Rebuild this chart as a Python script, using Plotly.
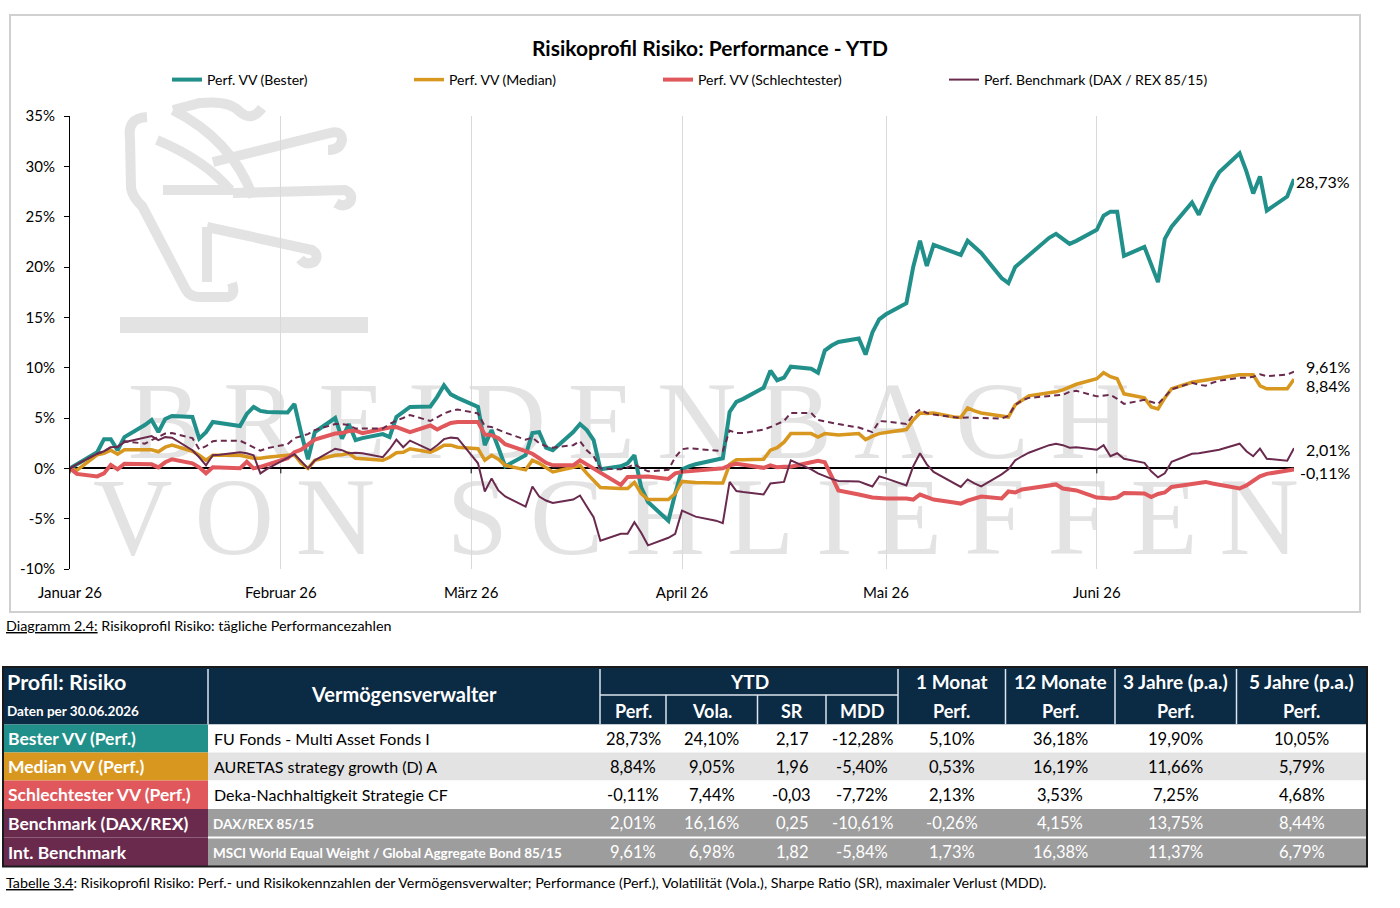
import plotly.graph_objects as go
import pandas as pd

W, H = 1400, 908

# ---------------- data ----------------
dates = pd.bdate_range("2026-01-01", "2026-06-30")
month_starts = pd.date_range("2026-01-01", "2026-06-01", freq="MS")
month_labels = ["Januar 26", "Februar 26", "März 26", "April 26", "Mai 26", "Juni 26"]

best = [
    0.0, 0.4, 1.6, 2.9, 2.9, 1.8, 3.1, 4.3, 4.8, 3.6, 4.9, 5.2, 5.1, 2.95, 3.6, 4.6, 4.5, 4.2, 5.4, 6.1, 5.7, 5.6,
    5.55, 6.4, 3.5, 0.9, 3.6, 5.0, 2.95, 4.4, 2.8, 3.0, 3.4, 3.1, 5.1, 5.6, 6.1, 6.15, 7.1, 8.25, 7.35, 7.0,
    6.1, 2.3, 3.8, 2.05, 0.2, 1.3, 3.5, 3.6, 2.05, 1.8, 3.6, 4.4, 3.8, 2.8, -0.1, 0.2, 0.5, 1.3, -1.9, -3.35, -5.2, -2.5,
    -0.1, 0.2, 0.4, 0.85, 1.0, 5.6, 6.6, 6.9, 8.0, 9.7, 8.75, 9.0, 10.1, 9.9, 9.5, 11.7, 12.2, 12.55, 12.9, 11.3, 13.5, 14.8,
    15.3, 16.4, 20.0, 22.6, 20.1, 22.2, 21.4, 21.2, 22.6, 22.0, 21.4, 18.9, 18.4, 20.0, 20.6, 21.2, 22.9, 23.3, 22.8, 22.3, 22.6,
    23.7, 25.1, 25.5, 25.5, 21.1, 22.0, 20.3, 18.5, 22.8, 24.0, 26.4, 25.2, 26.7, 28.2, 29.4, 31.3, 29.5, 27.3, 29.0, 25.6, 27.0, 28.73,
]
median = [
    0.0, -0.2, 1.35, 1.5, 1.8, 1.4, 1.85, 1.85, 1.85, 1.65, 2.1, 2.3, 1.7, 1.3, 0.8, 1.3, 1.3, 1.3, 1.15, 1.0, 1.0, 1.1,
    1.3, 1.35, 0.5, 0.0, 0.8, 1.3, 1.35, 1.5, 1.0, 0.95, 0.8, 1.1, 1.55, 1.6, 1.95, 1.6, 1.9, 2.3, 2.3, 2.1,
    1.95, 0.8, 1.3, 0.9, 0.3, -0.15, 0.8, 0.5, 0.1, -0.35, 0.1, 0.3, -0.5, -1.2, -1.9, -2.0, -2.0, -1.4, -2.5, -3.1, -3.1, -2.5,
    -1.3, -1.35, -1.4, -1.45, -1.45, 0.4, 0.85, 0.85, 0.9, 1.8, 2.05, 2.6, 3.45, 3.45, 3.1, 3.45, 3.35, 3.3, 3.45, 2.85, 3.2, 3.45,
    3.55, 3.85, 4.8, 5.5, 5.45, 5.5, 5.1, 5.05, 6.0, 5.7, 5.5, 5.2, 5.1, 6.3, 6.8, 7.2, 7.5, 7.6, 7.8, 8.1, 8.35,
    8.9, 9.5, 9.1, 8.9, 7.4, 7.0, 6.1, 5.9, 7.0, 7.9, 8.55, 8.65, 8.8, 8.9, 9.0, 9.3, 9.3, 9.3, 8.2, 7.9, 7.9, 8.84,
]
worst = [
    0.0, -0.55, -0.8, -0.5, 0.35, -0.1, 0.45, 0.45, 0.4, 0.1, 0.6, 0.9, 0.5, 0.1, -0.5, 0.1, 0.05, 0.0, 0.65, 0.0, 0.15, 0.35,
    1.0, 1.6, 1.85, 2.35, 2.85, 3.45, 3.5, 3.7, 3.75, 3.5, 3.95, 4.05, 4.1, 3.85, 3.6, 4.25, 3.85, 4.2, 4.5, 4.6,
    4.6, 3.35, 3.3, 3.0, 2.4, 1.7, 1.45, 1.0, 0.55, 0.3, 0.3, 0.8, 0.4, -0.1, -0.5, -1.65, -0.85, -0.8, -0.8, -0.8, -1.05, -0.5,
    -0.35, -0.3, -0.25, -0.05, 0.0, 0.3, 0.45, 0.35, 0.05, 0.3, 0.1, 0.15, 0.15, 0.6, 0.75, 0.6, -0.85, -2.2, -2.6, -2.8, -2.9, -2.95,
    -3.0, -3.0, -3.1, -2.6, -2.9, -3.1, -3.4, -3.5, -3.2, -2.95, -2.8, -3.0, -2.3, -2.4, -2.1, -2.0, -1.7, -1.6, -2.0, -2.1, -2.2,
    -2.9, -2.95, -3.0, -2.9, -2.45, -2.5, -2.85, -2.55, -2.4, -1.85, -1.6, -1.45, -1.35, -1.5, -1.65, -2.0, -1.7, -1.3, -0.8, -0.55, -0.2, -0.11,
]
bench = [
    0.0, 0.4, 1.45, 1.7, 2.1, 2.15, 2.6, 3.1, 3.2, 2.8, 3.1, 3.05, 1.8, 1.1, 0.3, 1.3, 1.35, 1.6, 1.5, 1.3, -0.5, -0.05,
    1.0, 1.4, 0.7, 0.0, 0.8, 1.95, 1.8, 1.5, 1.55, 1.5, 1.1, 1.9, 2.85, 2.1, 2.75, 1.8, 2.3, 2.9, 3.05, 3.0,
    0.5, -2.3, -1.0, -2.2, -2.8, -3.8, -1.8, -2.8, -3.2, -3.45, -3.1, -2.7, -3.8, -4.85, -7.2, -6.5, -6.5, -5.35, -6.4, -7.65, -6.9, -6.5,
    -4.2, -4.5, -4.8, -5.2, -5.45, -1.35, -2.25, -2.35, -2.6, -1.5, -1.45, -1.35, 0.8, -0.1, -0.5, -0.8, -1.05, -1.25, -1.3, -1.55, -1.8, -0.8,
    -1.0, -1.7, 0.2, 1.5, 0.4, -0.35, -1.5, -1.85, -1.1, -1.5, -1.8, -0.6, -0.1, 0.8, 1.2, 1.55, 2.3, 2.45, 2.3, 2.05, 2.1,
    1.85, 2.3, 1.2, 1.5, 0.95, 0.55, -0.3, -0.9, -0.5, 0.65, 1.45, 1.5, 1.6, 1.75, 1.85, 2.45, 1.7, 1.2, 1.95, 0.95, 0.75, 2.01,
]
intl = [
    0.0, 0.4, 1.45, 1.7, 2.1, 2.1, 2.7, 2.45, 2.8, 3.1, 3.45, 3.5, 3.0, 1.9, 2.2, 2.7, 2.75, 2.75, 2.4, 2.1, 1.75, 2.0,
    2.4, 3.0, 3.2, 3.4, 3.8, 4.4, 4.4, 4.3, 3.95, 3.95, 3.95, 4.4, 4.75, 5.0, 5.3, 4.7, 5.1, 5.45, 5.7, 5.85,
    5.45, 4.2, 4.1, 3.8, 3.55, 2.85, 3.05, 2.5, 2.2, 2.05, 2.3, 2.7, 1.8, 1.2, 0.0, -0.1, 0.1, 0.4, 0.0, -0.3, -0.15, 1.1,
    1.9, 2.0, 1.95, 1.8, 1.7, 3.75, 3.5, 3.5, 3.85, 4.1, 4.4, 4.7, 5.5, 5.5, 4.8, 4.65, 4.5, 4.4, 4.05, 3.8, 3.6, 4.7,
    4.65, 4.4, 5.3, 5.85, 5.5, 5.35, 5.1, 5.0, 5.05, 5.0, 5.0, 4.95, 5.2, 6.3, 6.75, 7.0, 7.2, 7.25, 7.3, 7.6, 7.7,
    7.15, 7.2, 7.3, 6.9, 6.4, 6.8, 6.6, 6.4, 7.1, 7.85, 8.5, 8.3, 8.2, 8.5, 8.7, 9.0, 9.0, 9.1, 9.35, 9.15, 9.3, 9.61,
]

series_names = ["Perf. VV (Bester)", "Perf. VV (Median)", "Perf. VV (Schlechtester)",
                "Perf. Benchmark (DAX / REX 85/15)", "Perf. Int. Benchmark"]
y_ticks = [-10, -5, 0, 5, 10, 15, 20, 25, 30, 35]

# table
row_labels = ["Bester VV (Perf.)", "Median VV (Perf.)", "Schlechtester VV (Perf.)",
              "Benchmark (DAX/REX)", "Int. Benchmark"]
managers = ["FU Fonds - Multi Asset Fonds I", "AURETAS strategy growth (D) A",
            "Deka-Nachhaltigkeit Strategie CF", "DAX/REX 85/15",
            "MSCI World Equal Weight / Global Aggregate Bond 85/15"]
ytd_perf = [28.73, 8.84, -0.11, 2.01, 9.61]
ytd_vola = [24.10, 9.05, 7.44, 16.16, 6.98]
ytd_sr = [2.17, 1.96, -0.03, 0.25, 1.82]
ytd_mdd = [-12.28, -5.40, -7.72, -10.61, -5.84]
perf_1m = [5.10, 0.53, 2.13, -0.26, 1.73]
perf_12m = [36.18, 16.19, 3.53, 4.15, 16.38]
perf_3y = [19.90, 11.66, 7.25, 13.75, 11.37]
perf_5y = [10.05, 5.79, 4.68, 8.44, 6.79]

# ---------------- style ----------------
TEAL, GOLD, RED, PLUM = "#22908A", "#D8971F", "#E0585C", "#6A2A4E"
NAVY = "#0B2A44"
WM = "#E3E3E3"
FONT = "Lato"


def fx(px):
    return px / W


def fy(py):
    return 1 - py / H


def de(v, pct=True):
    return f"{v:.2f}".replace(".", ",") + ("%" if pct else "")


fig = go.Figure()
colors = [TEAL, GOLD, RED, PLUM, PLUM]
widths = [4, 3.5, 4, 2, 2]
dashes = ["solid", "solid", "solid", "solid", "6px,4px"]
legends = ["legend", "legend2", "legend3", "legend4", None]
all_series = [best, median, worst, bench, intl]
for name, vals, c, w, d, lg in zip(series_names, all_series, colors, widths, dashes, legends):
    kw = dict(legend=lg) if lg else dict(showlegend=False)
    fig.add_trace(go.Scatter(x=dates, y=vals, name=name, mode="lines",
                             line=dict(color=c, width=w, dash=d), **kw))

shapes, anns = [], []

# chart frame
shapes.append(dict(type="rect", xref="paper", yref="paper", x0=fx(10), x1=fx(1360), y0=fy(612), y1=fy(15),
                   line=dict(color="#D0D0D0", width=2), fillcolor="rgba(0,0,0,0)", layer="below"))


def path(points):
    out = []
    for p in points:
        cmd, coords = p[0], p[1:]
        s = cmd
        for i in range(0, len(coords), 2):
            s += f"{fx(coords[i]):.5f},{fy(coords[i + 1]):.5f} "
        out.append(s.strip())
    return " ".join(out)


lion = [
    [("M", 147, 117), ("Q", 127, 118, 130, 138), ("L", 131, 188), ("Q", 133, 198, 142, 206),
     ("L", 186, 290), ("Q", 190, 297, 200, 297), ("L", 228, 297), ("Q", 236, 295, 232, 283)],
    [("M", 173, 110), ("Q", 232, 140, 253, 197)],
    [("M", 157, 140), ("Q", 205, 160, 230, 190)],
    [("M", 163, 190), ("L", 233, 190)],
    [("M", 173, 110), ("L", 200, 103), ("Q", 230, 100, 240, 112), ("Q", 252, 122, 262, 108)],
    [("M", 213, 162), ("L", 330, 133), ("Q", 342, 130, 342, 140), ("Q", 340, 150, 328, 150)],
    [("M", 233, 193), ("L", 345, 190), ("Q", 354, 194, 350, 202), ("Q", 344, 208, 336, 203)],
    [("M", 207, 227), ("L", 312, 250), ("Q", 320, 255, 314, 262), ("Q", 306, 266, 300, 259)],
    [("M", 207, 227), ("L", 207, 282)],
]
for pts in lion:
    shapes.append(dict(type="path", xref="paper", yref="paper", path=path(pts),
                       line=dict(color=WM, width=10), layer="below"))
shapes.append(dict(type="rect", xref="paper", yref="paper", x0=fx(120), x1=fx(368), y0=fy(333), y1=fy(317),
                   line=dict(width=0), fillcolor=WM, layer="below"))

wm_words = [("BREIDENBACH", 118, 1140, 409), ("VON SCHLIEFFEN", 98, 1294, 505)]
for word, x0, x1, yc in wm_words:
    shapes.append(dict(type="rect", xref="paper", yref="paper", x0=fx(x0), x1=fx(x1),
                       y0=fy(yc + 40), y1=fy(yc - 40), line=dict(width=0),
                       fillcolor="rgba(0,0,0,0)", layer="below",
                       label=dict(text="\u2009".join(word), textposition="middle center",
                                  font=dict(family="Liberation Serif", size=110, color=WM))))

# small month ticks on the zero line
for m in month_starts:
    shapes.append(dict(type="line", xref="x", yref="y", x0=m, x1=m, y0=0, y1=-0.5,
                       line=dict(color="black", width=1)))

# title
anns.append(dict(text="Risikoprofil Risiko: Performance - YTD", x=fx(710), y=fy(47), xref="paper", yref="paper",
                 showarrow=False, xanchor="center", yanchor="middle",
                 font=dict(family=FONT, size=21, color="black", weight="bold")))

# end-of-line value labels
end_shift = [-2, -6, -3, -1, 5]
for vals, dy in zip(all_series, end_shift):
    anns.append(dict(text=de(vals[-1]), x=dates[-1], y=vals[-1], xref="x", yref="y", showarrow=False,
                     xanchor="right", yanchor="middle", xshift=58, yshift=dy,
                     font=dict(family=FONT, size=16, color="black")))

# captions
anns.append(dict(text="<u>Diagramm 2.4:</u> Risikoprofil Risiko: tägliche Performancezahlen",
                 x=fx(4), y=fy(625), xref="paper", yref="paper", showarrow=False, xanchor="left",
                 yanchor="middle", font=dict(family=FONT, size=14.3, color="black")))
anns.append(dict(text="<u>Tabelle 3.4</u>: Risikoprofil Risiko: Perf.- und Risikokennzahlen der Vermögensverwalter; "
                      "Performance (Perf.), Volatilität (Vola.), Sharpe Ratio (SR), maximaler Verlust (MDD).",
                 x=fx(4), y=fy(882), xref="paper", yref="paper", showarrow=False, xanchor="left",
                 yanchor="middle", font=dict(family=FONT, size=14.3, color="black")))

# ---------------- table ----------------
cols = [3, 208, 600, 666, 757.5, 826, 898, 1005.5, 1115, 1236.5, 1367]
T_TOP, T_MID, T_HB = 667, 695, 724.5
rows = [724.5, 752.5, 780.5, 809, 837.5, 866.5]
label_bg = [TEAL, GOLD, RED, PLUM, PLUM]
row_bg = ["#FFFFFF", "#E3E3E3", "#FFFFFF", "#9D9D9D", "#9D9D9D"]
row_fg = ["black", "black", "black", "white", "white"]


def rect(x0, y0, x1, y1, fill="rgba(0,0,0,0)", lc="rgba(0,0,0,0)", lw=0):
    shapes.append(dict(type="rect", xref="paper", yref="paper", x0=fx(x0), x1=fx(x1), y0=fy(y1), y1=fy(y0),
                       fillcolor=fill, line=dict(color=lc, width=lw), layer="above"))


def seg(x0, y0, x1, y1, c, w):
    shapes.append(dict(type="line", xref="paper", yref="paper", x0=fx(x0), x1=fx(x1), y0=fy(y0), y1=fy(y1),
                       line=dict(color=c, width=w), layer="above"))


def txt(s, x, y, size=16, color="black", bold=False, anchor="center"):
    anns.append(dict(text=s, x=fx(x), y=fy(y), xref="paper", yref="paper", xanchor=anchor, yanchor="middle",
                     showarrow=False,
                     font=dict(family=FONT, size=size, color=color, weight="bold" if bold else "normal")))


rect(cols[0], T_TOP, cols[-1], T_HB, fill=NAVY)
for i in range(5):
    rect(cols[0], rows[i], cols[1], rows[i + 1], fill=label_bg[i])
    rect(cols[1], rows[i], cols[-1], rows[i + 1], fill=row_bg[i])
seg(cols[1], rows[4], cols[-1], rows[4], "white", 2)
for xi in [1, 2, 6, 7, 8, 9]:
    seg(cols[xi], T_TOP + 2, cols[xi], T_HB, "#DDE4EC", 1.5)
for xi in [3, 4, 5]:
    seg(cols[xi], T_MID, cols[xi], T_HB, "#DDE4EC", 1.5)
seg(cols[2], T_MID, cols[6], T_MID, "#DDE4EC", 1.5)
rect(cols[0], T_TOP, cols[-1], rows[-1], lc="#1A1A1A", lw=2)

# header texts
txt("Profil: Risiko", 5, 682, size=21.5, color="white", bold=True, anchor="left")
txt("Daten per 30.06.2026", 5, 711, size=13.5, color="white", bold=True, anchor="left")
txt("Vermögensverwalter", (cols[1] + cols[2]) / 2, 694, size=20, color="white", bold=True)
txt("YTD", (cols[2] + cols[6]) / 2, 681, size=19, color="white", bold=True)
for i, s in enumerate(["Perf.", "Vola.", "SR", "MDD"]):
    txt(s, (cols[2 + i] + cols[3 + i]) / 2, 710.5, size=18, color="white", bold=True)
for i, s in enumerate(["1 Monat", "12 Monate", "3 Jahre (p.a.)", "5 Jahre (p.a.)"]):
    txt(s, (cols[6 + i] + cols[7 + i]) / 2, 681, size=19, color="white", bold=True)
    txt("Perf.", (cols[6 + i] + cols[7 + i]) / 2, 710.5, size=18, color="white", bold=True)

value_cols = [(ytd_perf, True), (ytd_vola, True), (ytd_sr, False), (ytd_mdd, True),
              (perf_1m, True), (perf_12m, True), (perf_3y, True), (perf_5y, True)]
for r in range(5):
    yc = (rows[r] + rows[r + 1]) / 2
    txt(row_labels[r], 6, yc, size=17.5, color="white", bold=True, anchor="left")
    if r < 3:
        txt(managers[r], 212, yc, size=16, color="black", anchor="left")
    else:
        txt(managers[r], 211, yc + 1, size=13.5, color="white", bold=True, anchor="left")
    for ci, (vals, pct) in enumerate(value_cols):
        txt(de(vals[r], pct), (cols[2 + ci] + cols[3 + ci]) / 2, yc, size=16.5, color=row_fg[r])

# ---------------- layout ----------------
legend_x = [167, 409, 658, 944]
leg_common = dict(orientation="h", yanchor="middle", y=fy(80), xanchor="left", bgcolor="rgba(0,0,0,0)",
                  font=dict(family=FONT, size=14, color="black"))

fig.update_layout(
    width=W, height=H,
    margin=dict(l=0, r=0, t=0, b=0, autoexpand=False),
    paper_bgcolor="white", plot_bgcolor="rgba(0,0,0,0)",
    font=dict(family=FONT, color="black"),
    showlegend=True,
    legend=dict(x=fx(legend_x[0]), **leg_common),
    legend2=dict(x=fx(legend_x[1]), **leg_common),
    legend3=dict(x=fx(legend_x[2]), **leg_common),
    legend4=dict(x=fx(legend_x[3]), **leg_common),
    xaxis=dict(domain=[fx(70), fx(1294)], range=["2026-01-01", "2026-06-30"],
               tickvals=month_starts, ticktext=month_labels, showgrid=True, gridcolor="#D9D9D9", gridwidth=1,
               showline=False, zeroline=False, ticks="", ticklabelstandoff=13,
               tickfont=dict(family=FONT, size=15, color="black")),
    yaxis=dict(domain=[fy(569), fy(116)], range=[-10, 35], tickvals=y_ticks,
               ticktext=[f"{v}%" for v in y_ticks], showgrid=False, showline=True, linecolor="black",
               linewidth=1, ticks="outside", ticklen=5, tickcolor="black", ticklabelstandoff=6,
               zeroline=True, zerolinecolor="black", zerolinewidth=1.5,
               tickfont=dict(family=FONT, size=15, color="black")),
    shapes=shapes, annotations=anns,
    hovermode=False,
)

fig.write_html("out.html", config={"displayModeBar": False},
               post_script="document.body.style.margin='0';")
